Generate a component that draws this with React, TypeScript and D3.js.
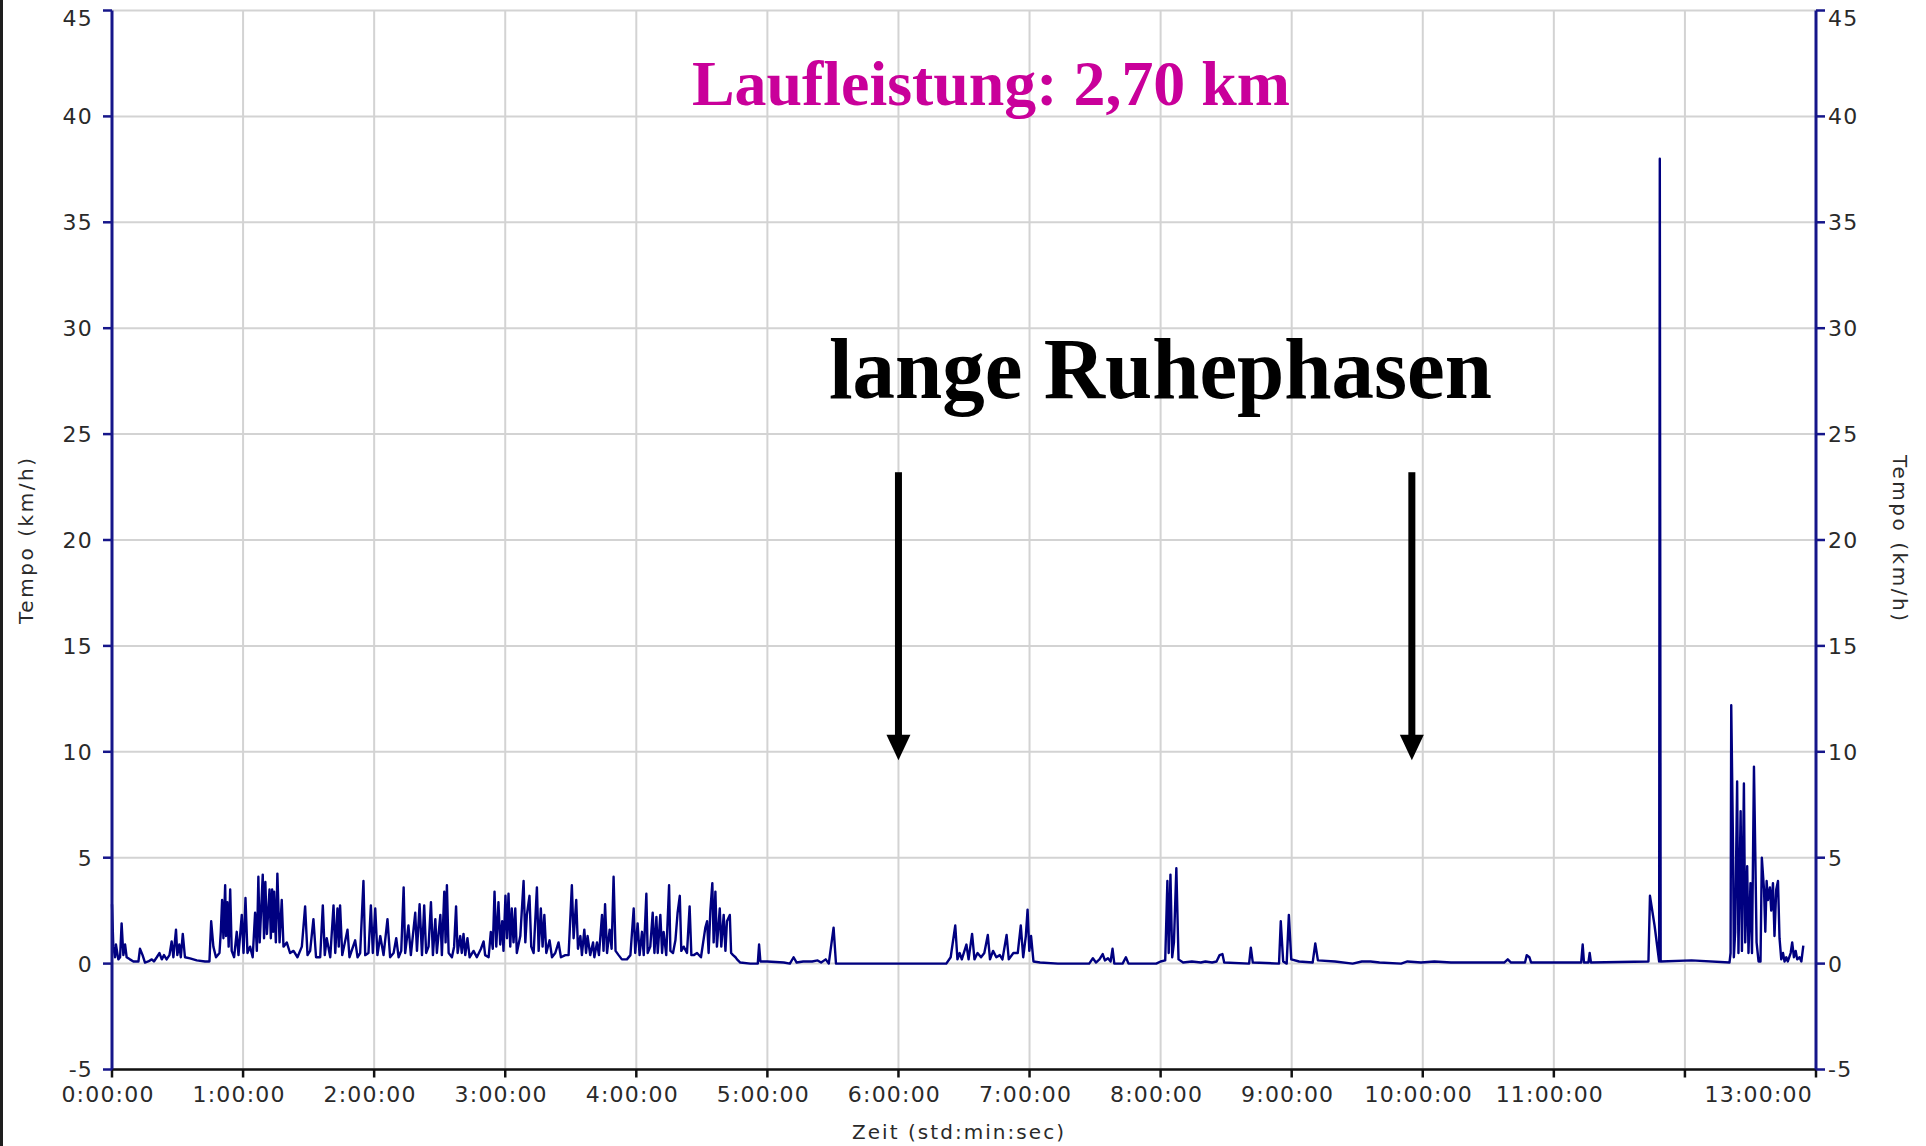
import React from 'react';
import * as d3 from 'd3';

// Tempo-Aufzeichnung: [Zeit in Minuten, Tempo in km/h]
const aktivPhase1: [number, number][] = [
  [0, 2.8], [0.6, 0.8], [1.4, 0.3], [1.8, 0.9], [2.9, 0.2], [3.7, 0.3], [4.4, 1.9], [5.2, 0.4], [6.0, 0.9], [6.7, 0.3],
  [8.2, 0.2], [9.8, 0.1], [12.1, 0.1], [12.8, 0.7], [14.0, 0.4], [15.1, 0.05], [16.6, 0.1], [18.2, 0.2], [19.2, 0.1],
  [20.5, 0.3], [21.7, 0.5], [22.8, 0.2], [23.8, 0.4], [25.0, 0.2], [26.3, 0.4], [27.3, 1.05], [28.1, 0.3], [29.3, 1.6],
  [29.9, 0.4], [30.8, 0.9], [31.5, 0.3], [32.4, 1.4], [33.4, 0.3], [35.7, 0.25], [38.8, 0.15], [42.6, 0.1], [44.6, 0.1],
  [45.4, 2.0], [46.4, 0.8], [47.6, 0.3], [49.2, 0.5], [49.8, 1.5], [50.4, 3.0], [51.0, 1.2], [51.8, 3.7], [52.2, 1.3],
  [52.8, 2.9], [53.4, 0.8], [54.1, 3.5], [54.8, 0.6], [55.9, 0.3], [57.1, 1.5], [57.9, 0.4], [59.4, 2.3], [60.2, 0.5],
  [61.1, 3.1], [62.0, 0.5], [63.2, 0.8], [64.4, 0.3], [65.5, 2.4], [66.3, 0.6], [67.0, 4.1], [67.6, 1.0], [69.0, 4.2],
  [69.6, 1.2], [70.2, 3.85], [70.9, 1.4], [72.1, 3.5], [72.7, 1.2], [73.3, 3.5], [73.8, 1.5], [74.2, 3.4], [75.0, 1.0],
  [75.7, 4.25], [76.7, 1.0], [77.7, 3.0], [78.5, 0.8], [80.0, 1.0], [81.5, 0.5], [83.1, 0.6], [84.9, 0.3], [86.9, 0.8],
  [88.4, 2.7], [89.5, 0.4], [90.7, 0.6], [92.2, 2.1], [93.4, 0.3], [95.3, 0.3], [96.5, 2.75], [97.4, 0.4], [98.3, 1.2],
  [99.9, 0.3], [101.4, 2.75], [102.2, 0.5], [103.2, 2.6], [103.8, 0.8], [104.4, 2.75], [105.4, 0.4], [107.8, 1.6],
  [108.7, 0.3], [111.3, 1.1], [112.4, 0.3], [113.6, 0.5], [115.1, 3.9], [115.9, 0.4], [117.4, 0.5], [118.5, 2.75],
  [119.4, 0.5], [120.5, 2.6], [121.5, 0.4], [122.8, 1.3], [124.3, 0.4], [126.1, 2.1], [127.3, 0.3], [128.9, 0.5],
  [130.1, 1.2], [131.2, 0.3], [132.4, 0.6], [133.5, 3.6], [134.2, 0.5], [135.7, 1.8], [136.8, 0.4], [138.8, 2.4],
  [139.6, 0.6], [140.8, 2.8], [141.9, 0.4], [142.9, 2.75], [143.8, 0.5], [144.9, 0.8], [146.0, 2.9], [146.9, 0.4],
  [148.0, 2.1], [148.7, 0.5], [150.3, 2.3], [151.0, 0.4], [152.1, 3.4], [152.7, 1.0], [153.3, 3.7], [154.1, 0.5],
];

const aktivPhase2: [number, number][] = [
  [155.6, 0.3], [156.6, 0.8], [157.5, 2.7], [158.2, 0.5], [159.4, 1.3], [160.1, 0.5], [160.9, 1.4], [161.7, 0.4],
  [162.7, 1.2], [163.7, 0.3], [165.5, 0.6], [167.0, 0.3], [168.9, 0.7], [170.1, 1.05], [170.8, 0.4], [172.4, 0.3],
  [173.4, 1.5], [174.3, 0.7], [175.1, 3.4], [175.9, 0.8], [176.9, 2.9], [177.7, 0.9], [178.6, 2.0], [179.2, 0.6],
  [180.1, 3.2], [180.8, 1.2], [181.5, 3.3], [182.3, 0.8], [183.0, 2.6], [183.8, 1.0], [184.6, 2.6], [185.3, 0.5],
  [186.9, 1.3], [188.4, 3.9], [189.2, 1.0], [189.9, 2.3], [191.1, 3.2], [191.9, 0.8], [193.0, 0.5], [194.5, 3.6],
  [195.3, 0.6], [196.3, 2.6], [197.1, 0.8], [197.9, 2.3], [198.8, 0.5], [200.3, 1.1], [201.4, 0.3], [202.9, 0.5],
  [204.4, 1.0], [205.5, 0.3], [207.5, 0.4], [209.0, 0.4], [210.5, 3.7], [211.3, 1.2], [212.5, 3.0], [213.3, 0.7],
  [214.4, 1.3], [215.1, 0.4], [216.2, 1.6], [217.0, 0.5], [217.7, 1.3], [218.9, 0.4], [220.2, 1.0], [220.8, 0.3],
  [222.0, 1.0], [222.9, 0.4], [224.3, 2.3], [225.0, 0.6], [225.7, 2.8], [226.6, 0.5], [227.8, 1.6], [228.7, 0.7],
  [229.6, 4.1], [230.5, 0.6], [231.9, 0.4], [233.4, 0.2], [235.7, 0.2], [237.3, 0.4], [238.8, 2.6], [239.5, 0.5],
  [240.6, 1.9], [241.5, 0.4], [242.6, 1.5], [243.4, 0.4], [244.6, 3.3], [245.2, 0.5], [246.4, 0.8], [247.5, 2.4],
  [248.3, 0.5], [249.2, 2.2], [249.8, 0.5], [251.0, 2.3], [251.8, 0.5], [252.5, 1.5], [253.7, 0.4], [255.0, 3.7],
  [255.6, 0.6], [256.8, 0.5], [257.9, 1.1], [258.9, 2.4], [259.9, 3.2], [260.6, 0.6], [261.7, 0.8], [263.2, 0.5],
  [264.4, 2.7], [265.2, 0.4], [266.3, 0.4], [267.8, 0.5], [269.6, 0.3], [271.6, 1.7], [272.4, 2.0], [273.1, 0.5],
  [273.9, 2.5], [274.8, 3.8], [275.4, 1.0], [276.2, 3.4], [276.9, 0.8], [278.2, 2.6], [278.9, 0.8], [280.0, 2.3],
  [280.8, 0.6], [281.5, 2.0], [282.8, 2.3], [283.4, 0.5], [284.3, 0.4], [285.4, 0.3], [286.1, 0.2], [287.6, 0.05],
  [292.2, 0.0], [295.6, 0.0], [296.2, 0.9], [296.8, 0.1], [299.9, 0.1],
];

const ruhePhase1: [number, number][] = [
  [307.5, 0.05], [310.3, 0.0], [312.0, 0.3], [313.4, 0.05], [316.4, 0.1], [320.5, 0.1], [323.0, 0.15], [324.6, 0.05],
  [326.7, 0.2], [328.1, 0.0], [330.3, 1.7], [331.4, 0.0], [361.4, 0.0], [381.9, 0.0], [383.9, 0.3], [386.0, 1.8],
  [387.0, 0.2], [388.0, 0.5], [389.0, 0.2], [391.1, 0.9], [392.1, 0.2], [393.7, 1.4], [394.8, 0.2], [396.2, 0.5],
  [397.8, 0.3], [399.3, 0.5], [400.9, 1.35], [401.9, 0.2], [403.3, 0.6], [404.8, 0.3], [406.4, 0.4], [407.6, 0.2],
  [409.5, 1.35], [410.5, 0.2], [412.6, 0.5], [414.6, 0.5], [416.0, 1.8], [417.1, 0.3], [418.3, 1.3], [419.1, 2.55],
  [419.9, 0.6], [420.7, 1.3], [421.8, 0.1], [424.8, 0.05], [433.0, 0.0], [447.3, 0.0], [449.0, 0.25], [450.4, 0.05],
  [452.0, 0.2], [453.5, 0.45], [454.5, 0.15], [455.9, 0.25], [457.1, 0.1], [458.0, 0.7], [458.8, 0.0], [462.6, 0.0],
  [464.1, 0.3], [465.3, 0.0], [478.0, 0.0], [480.0, 0.1], [482.1, 0.15], [483.1, 3.9], [483.7, 0.5], [484.5, 4.2],
  [485.3, 0.3], [486.1, 1.0], [487.2, 4.5], [488.2, 0.2], [490.3, 0.05], [494.3, 0.1], [498.4, 0.05], [500.5, 0.1],
  [503.6, 0.05], [505.6, 0.1], [507.0, 0.4], [508.3, 0.45], [509.1, 0.05], [520.5, 0.0], [521.3, 0.75], [522.2, 0.05],
  [534.2, 0.0], [535.0, 2.0], [536.1, 0.1], [537.7, 0.0], [538.7, 2.3], [539.8, 0.2], [543.4, 0.1], [549.6, 0.05],
  [550.8, 0.95], [552.0, 0.15], [559.8, 0.1], [567.9, 0.0], [572.1, 0.1], [576.1, 0.1], [580.2, 0.05], [590.1, 0.0],
];

const ruhePhase2: [number, number][] = [
  [593, 0.1], [599.2, 0.05], [605.3, 0.1], [612.9, 0.05], [620.5, 0.05], [637.3, 0.05], [638.9, 0.2], [640.4, 0.05],
  [646.8, 0.05], [647.6, 0.4], [648.8, 0.3], [649.6, 0.05], [672.5, 0.05], [673.2, 0.9], [673.8, 0.05], [675.8, 0.05],
  [676.4, 0.5], [677.0, 0.05], [703.3, 0.1], [704.0, 3.2], [706.1, 1.8], [708.2, 0.1], [708.5, 38.0], [708.9, 0.1],
  [723, 0.15], [740.4, 0.05], [740.9, 0.5], [741.2, 12.2], [742.0, 5.7], [742.4, 0.3], [743.0, 1.5], [743.9, 8.6],
  [744.5, 0.5], [745.5, 7.2], [746.1, 0.6], [747.0, 8.5], [747.6, 1.0], [748.5, 4.6], [749.1, 0.5], [750.0, 3.8],
  [750.7, 0.5], [751.6, 9.3], [752.2, 5.3], [752.8, 1.0], [753.7, 0.1], [754.6, 0.1], [755.2, 5.0], [756.2, 3.5],
  [756.8, 1.5], [757.4, 3.9], [758.0, 3.0], [758.9, 3.6], [759.5, 2.5], [760.3, 3.8], [761.0, 1.3], [761.8, 3.5],
  [762.6, 3.9], [763.3, 1.2], [764.1, 0.2], [764.9, 0.5], [765.6, 0.1], [766.4, 0.3], [767.1, 0.1], [768.4, 0.5],
  [769.1, 1.0], [769.9, 0.3], [770.7, 0.6], [771.4, 0.2], [772.5, 0.3], [773.3, 0.1], [774.2, 0.85],
];

const yTicks = [-5, 0, 5, 10, 15, 20, 25, 30, 35, 40, 45];
const xGridHours = [1, 2, 3, 4, 5, 6, 7, 8, 9, 10, 11, 12];
const xTickHours = [0, 1, 2, 3, 4, 5, 6, 7, 8, 9, 10, 11, 12, 13];
const xLabelHours = [0, 1, 2, 3, 4, 5, 6, 7, 8, 9, 10, 11, 13];
const pfeilZeiten = [360, 595]; // Minuten

const W = 1926, H = 1146;
const NAVY = '#16168a';
const GRID = '#d3d3d3';
const TXT = '#2a2a2a';
const tickFont = { fontFamily: 'DejaVu Sans, Verdana, sans-serif', fontSize: 22, letterSpacing: 1.2 };
const titleFont = { fontFamily: 'DejaVu Sans, sans-serif', fontSize: 20 };

const fmtHour = (h: number) => `${h}:00:00`;

export default function App() {
  const x = d3.scaleLinear().domain([0, 780]).range([112, 1816]);
  const y = d3.scaleLinear().domain([-5, 45]).range([1069.5, 10.5]);

  const data = [...aktivPhase1, ...aktivPhase2, ...ruhePhase1, ...ruhePhase2];
  const line = d3.line<[number, number]>()
    .x(d => x(d[0]))
    .y(d => y(d[1]));

  const [x0, x1] = x.range();
  const [yBot, yTop] = y.range();

  return (
    <svg width={W} height={H} style={{ position: 'absolute', left: 0, top: 0, background: '#fff' }}>
      <rect x={0} y={0} width={W} height={H} fill="#fff" />
      <rect x={0} y={0} width={3} height={H} fill="#1e1e1e" />

      {/* grid */}
      {yTicks.map(t => (
        <line key={'gy' + t} x1={x0} x2={x1} y1={y(t)} y2={y(t)} stroke={GRID} strokeWidth={2} />
      ))}
      {xGridHours.map(h => (
        <line key={'gx' + h} x1={x(h * 60)} x2={x(h * 60)} y1={yTop} y2={yBot} stroke={GRID} strokeWidth={2} />
      ))}

      {/* data */}
      <path d={line(data) || ''} fill="none" stroke="#000080" strokeWidth={2.4} strokeLinejoin="round" />

      {/* x axis */}
      <line x1={x0} x2={x1 + 1} y1={yBot} y2={yBot} stroke="#111" strokeWidth={2.5} />
      {xTickHours.map(h => (
        <line key={'xt' + h} x1={x(h * 60)} x2={x(h * 60)} y1={yBot} y2={yBot + 8} stroke="#111" strokeWidth={2.5} />
      ))}
      {xLabelHours.map(h => (
        <text key={'xl' + h} x={h === 13 ? x(h * 60) - 3 : x(h * 60) - 4} y={1102}
          textAnchor={h === 13 ? 'end' : 'middle'} fill={TXT} style={tickFont}>
          {fmtHour(h)}
        </text>
      ))}

      {/* y axes */}
      <line x1={x0} x2={x0} y1={yTop} y2={yBot} stroke={NAVY} strokeWidth={3} />
      <line x1={x1} x2={x1} y1={yTop} y2={yBot} stroke={NAVY} strokeWidth={3} />
      {yTicks.map(t => (
        <g key={'yt' + t}>
          <line x1={x0 - 9} x2={x0} y1={y(t)} y2={y(t)} stroke={NAVY} strokeWidth={2.5} />
          <line x1={x1} x2={x1 + 9} y1={y(t)} y2={y(t)} stroke={NAVY} strokeWidth={2.5} />
          <text x={x0 - 19} y={Math.max(y(t), 18.5)} dy="0.36em" textAnchor="end" fill={TXT} style={tickFont}>{t}</text>
          <text x={x1 + 12} y={Math.max(y(t), 18.5)} dy="0.36em" textAnchor="start" fill={TXT} style={tickFont}>{t}</text>
        </g>
      ))}

      {/* axis titles */}
      <text transform={`translate(26, 541) rotate(-90)`} textAnchor="middle" dy="0.35em" fill={TXT}
        style={titleFont} textLength={166}>
        Tempo (km/h)
      </text>
      <text transform={`translate(1900, 538) rotate(90)`} textAnchor="middle" dy="0.35em" fill={TXT}
        style={titleFont} textLength={166}>
        Tempo (km/h)
      </text>
      <text x={958} y={1139} textAnchor="middle" fill={TXT} style={titleFont} textLength={212}>
        Zeit (std:min:sec)
      </text>

      {/* annotations */}
      <text x={692} y={105} fill="#c9009a" textLength={598} lengthAdjust="spacingAndGlyphs"
        style={{ fontFamily: 'Liberation Serif, Times New Roman, serif', fontWeight: 'bold', fontSize: 64 }}>
        Laufleistung: 2,70 km
      </text>
      <text x={829} y={398} fill="#000" textLength={663} lengthAdjust="spacingAndGlyphs"
        style={{ fontFamily: 'Liberation Serif, Times New Roman, serif', fontWeight: 'bold', fontSize: 86 }}>
        lange Ruhephasen
      </text>
      {pfeilZeiten.map(m => {
        const cx = x(m);
        const top = y(23.2), base = y(10.8), tip = y(9.6);
        return (
          <g key={'pf' + m}>
            <rect x={cx - 3.5} y={top} width={7} height={base - top + 1} fill="#000" />
            <path d={`M${cx - 12},${base} L${cx + 12},${base} L${cx},${tip} Z`} fill="#000" />
          </g>
        );
      })}
    </svg>
  );
}
